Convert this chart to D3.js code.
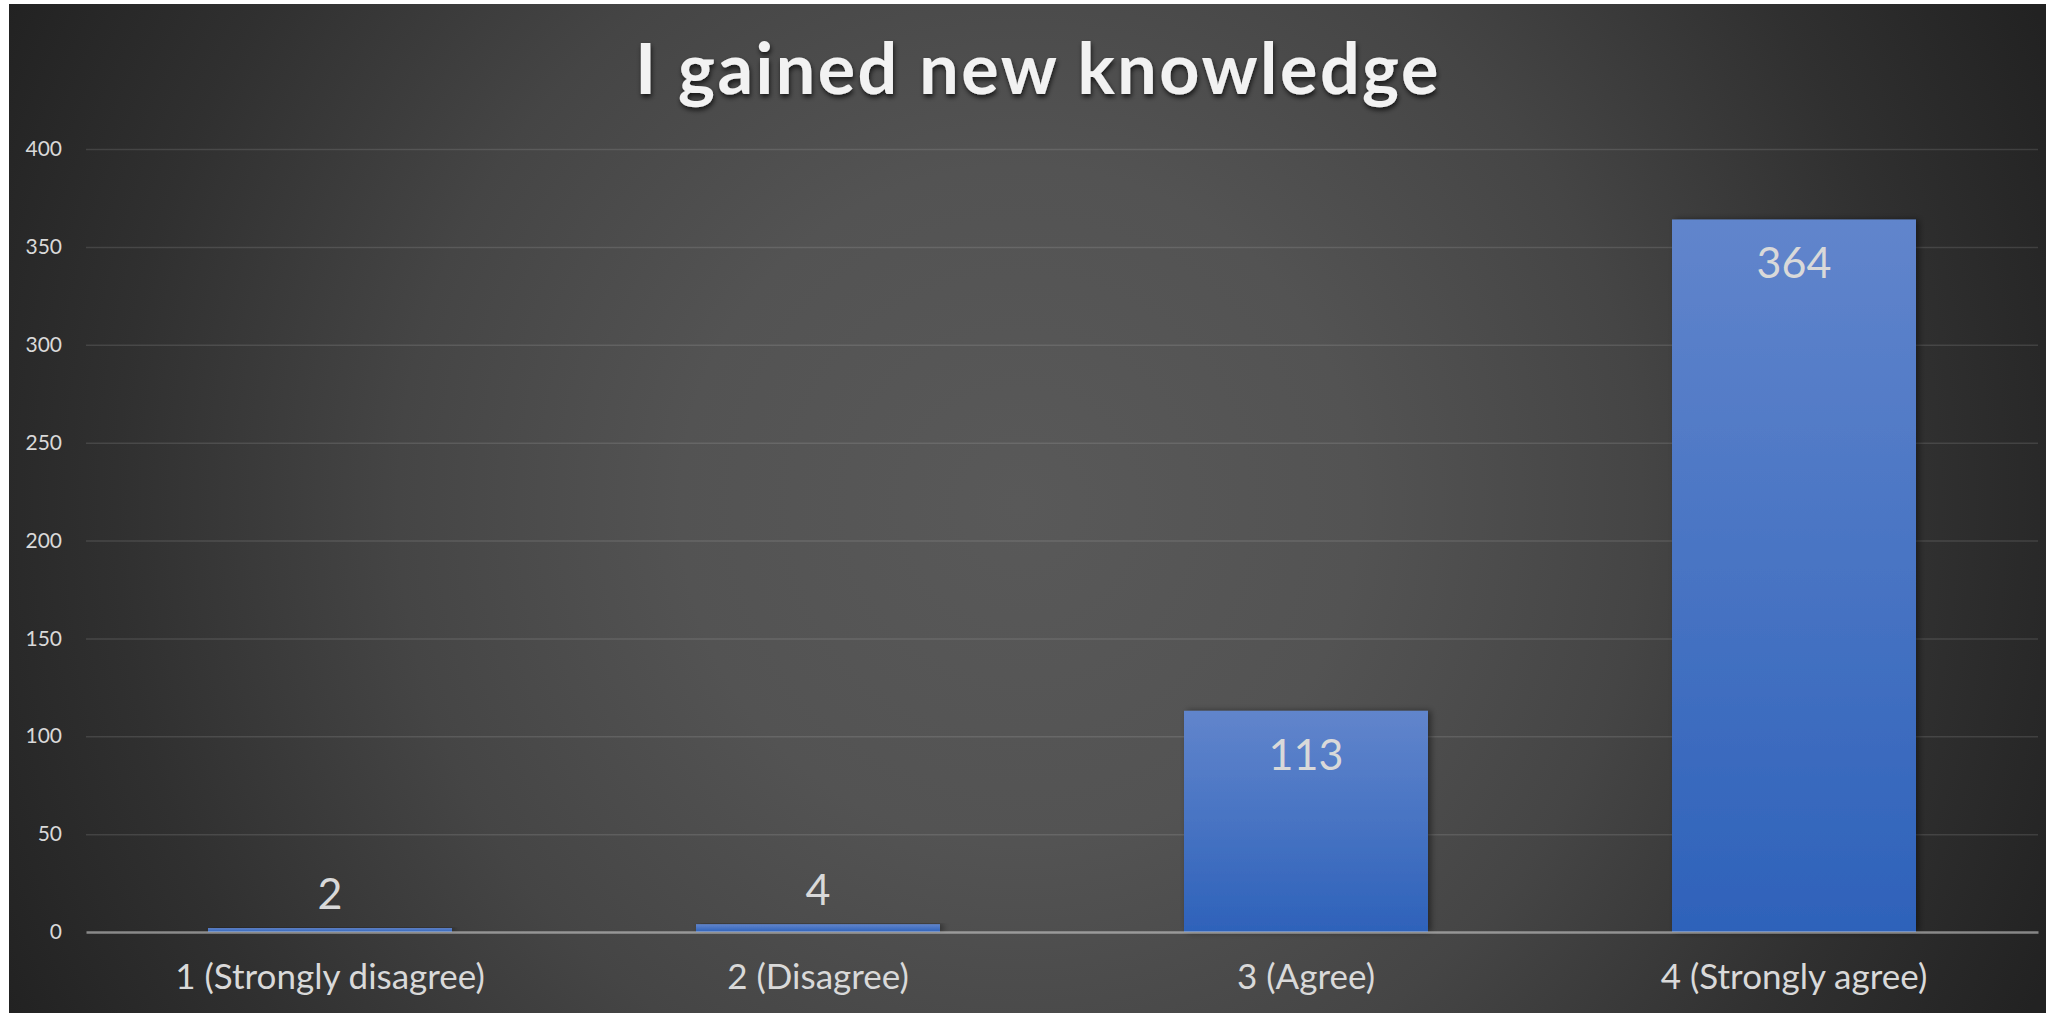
<!DOCTYPE html>
<html>
<head>
<meta charset="utf-8">
<script src="https://cdn.jsdelivr.net/npm/d3@7"></script>
<style>
  body { margin: 0; background: #ffffff; }
  svg { display: block; }
</style>
</head>
<body>
<script>
// chart data
var categories = ["1 (Strongly disagree)", "2 (Disagree)", "3 (Agree)", "4 (Strongly agree)"]
var counts = [2, 4, 113, 364]
var yTicks = [0, 50, 100, 150, 200, 250, 300, 350, 400]
var chartTitle = "I gained new knowledge"

//Draw bar chart
function setUpCanvas(){

    var W = 2046, H = 1013;
    var margin = {"top":149, "right":8, "bottom":81, "left":86};

    var canvas = d3.select("body")
                    .append("svg")
                    .attr("width", W)
                    .attr("height", H)

    var defs = canvas.append("defs");

    // dark radial background
    var bg = defs.append("radialGradient")
                .attr("id","bgGrad")
                .attr("gradientUnits","userSpaceOnUse")
                .attr("cx",1020).attr("cy",505).attr("r",1130)
    bg.append("stop").attr("offset","0").attr("stop-color","#595959")
    bg.append("stop").attr("offset","0.3").attr("stop-color","#535353")
    bg.append("stop").attr("offset","0.55").attr("stop-color","#454545")
    bg.append("stop").attr("offset","0.8").attr("stop-color","#303030")
    bg.append("stop").attr("offset","1").attr("stop-color","#222222")

    // bar fill
    var barGrad = defs.append("linearGradient")
                .attr("id","barGrad")
                .attr("x1",0).attr("y1",0).attr("x2",0).attr("y2",1)
    barGrad.append("stop").attr("offset","0").attr("stop-color","#6185cc")
    barGrad.append("stop").attr("offset","1").attr("stop-color","#2e62ba")

    var barShadow = defs.append("filter").attr("id","barShadow")
                .attr("x","-10%").attr("y","-10%").attr("width","130%").attr("height","120%")
    barShadow.append("feDropShadow")
                .attr("dx",3).attr("dy",0).attr("stdDeviation",3)
                .attr("flood-color","#000").attr("flood-opacity",0.45)

    var titleShadow = defs.append("filter").attr("id","titleShadow")
                .attr("x","-5%").attr("y","-20%").attr("width","110%").attr("height","150%")
    titleShadow.append("feDropShadow")
                .attr("dx",1).attr("dy",3).attr("stdDeviation",2.5)
                .attr("flood-color","#000").attr("flood-opacity",0.7)

    canvas.append("rect")
            .attr("x",9).attr("y",4)
            .attr("width",W-9).attr("height",H-4)
            .attr("fill","url(#bgGrad)")

    var width = W - margin.left - margin.right;
    var height = 932 - margin.top;

    var xScale = d3.scaleBand()
                    .domain(categories)
                    .range([0,width])
                    .paddingInner(0.5)
                    .paddingOuter(0.25)

    var yScale = d3.scaleLinear()
                    .domain([0,400])
                    .range([height,0]);

    var chartGroup = canvas.append("g")
                            .attr("transform","translate(" +margin.left +
                            "," + margin.top + ")");

    // gridlines + y labels
    var y_axisGroup = chartGroup.append("g")
                                .call(d3.axisLeft(yScale)
                                        .tickValues(yTicks)
                                        .tickSize(-width)
                                        .tickPadding(24))
    y_axisGroup.select(".domain").remove()
    y_axisGroup.selectAll(".tick line")
                .attr("stroke","#d9d9d9")
                .attr("stroke-opacity",0.14)
                .attr("stroke-width",1.5)
                .filter(function(d){ return d === 0 }).remove()
    y_axisGroup.selectAll(".tick text")
                .attr("fill","#d9d9d9")
                .style("font-family","Lato, 'Open Sans', sans-serif")
                .style("font-size","21px")

    var barsPlot = chartGroup.selectAll(".bar")
                            .data(counts)
                            .enter()
                            .append("rect")
                            .attr("class","bar")
                            .attr("x", function(d,i) {return xScale(categories[i])})
                            .attr("y",function(d) {return yScale(d)})
                            .attr("width", xScale.bandwidth())
                            .attr("height",function(d) {return height - yScale(d);})
                            .attr("fill","url(#barGrad)")
                            .attr("filter","url(#barShadow)")

    // x axis line drawn over the bars
    var x_axisGroup = chartGroup.append("g")
                                .attr("transform","translate(0," +height+")")
                                .call(d3.axisBottom(xScale).tickSize(0).tickPadding(50))
    x_axisGroup.select(".domain")
                .attr("stroke","#d9d9d9")
                .attr("stroke-opacity",0.55)
                .attr("stroke-width",2.5)
    x_axisGroup.selectAll(".tick text")
                .attr("fill","#d9d9d9")
                .attr("dy","0.2em")
                .style("font-family","Lato, 'Open Sans', sans-serif")
                .style("font-size","35px")

    // data labels: inside end for tall bars, above for short ones
    chartGroup.selectAll(".lbl")
                .data(counts)
                .enter()
                .append("text")
                .attr("class","lbl")
                .attr("x", function(d,i) {return xScale(categories[i]) + xScale.bandwidth()/2})
                .attr("y", function(d) {
                    var top = yScale(d);
                    return (height - top > 80) ? top + 59 : top - 19;
                })
                .attr("text-anchor","middle")
                .attr("fill","#d9d9d9")
                .style("font-family","Lato, 'Open Sans', sans-serif")
                .style("font-size","43px")
                .text(function(d) {return d})

    canvas.append("text")
            .attr("x",1038)
            .attr("y",94)
            .attr("text-anchor","middle")
            .attr("fill","#f2f2f2")
            .attr("filter","url(#titleShadow)")
            .style("font-family","Lato, 'Open Sans', sans-serif")
            .style("font-weight","bold")
            .style("font-size","70px")
            .style("letter-spacing","2.5px")
            .text(chartTitle)
}

setUpCanvas();
</script>
</body>
</html>
